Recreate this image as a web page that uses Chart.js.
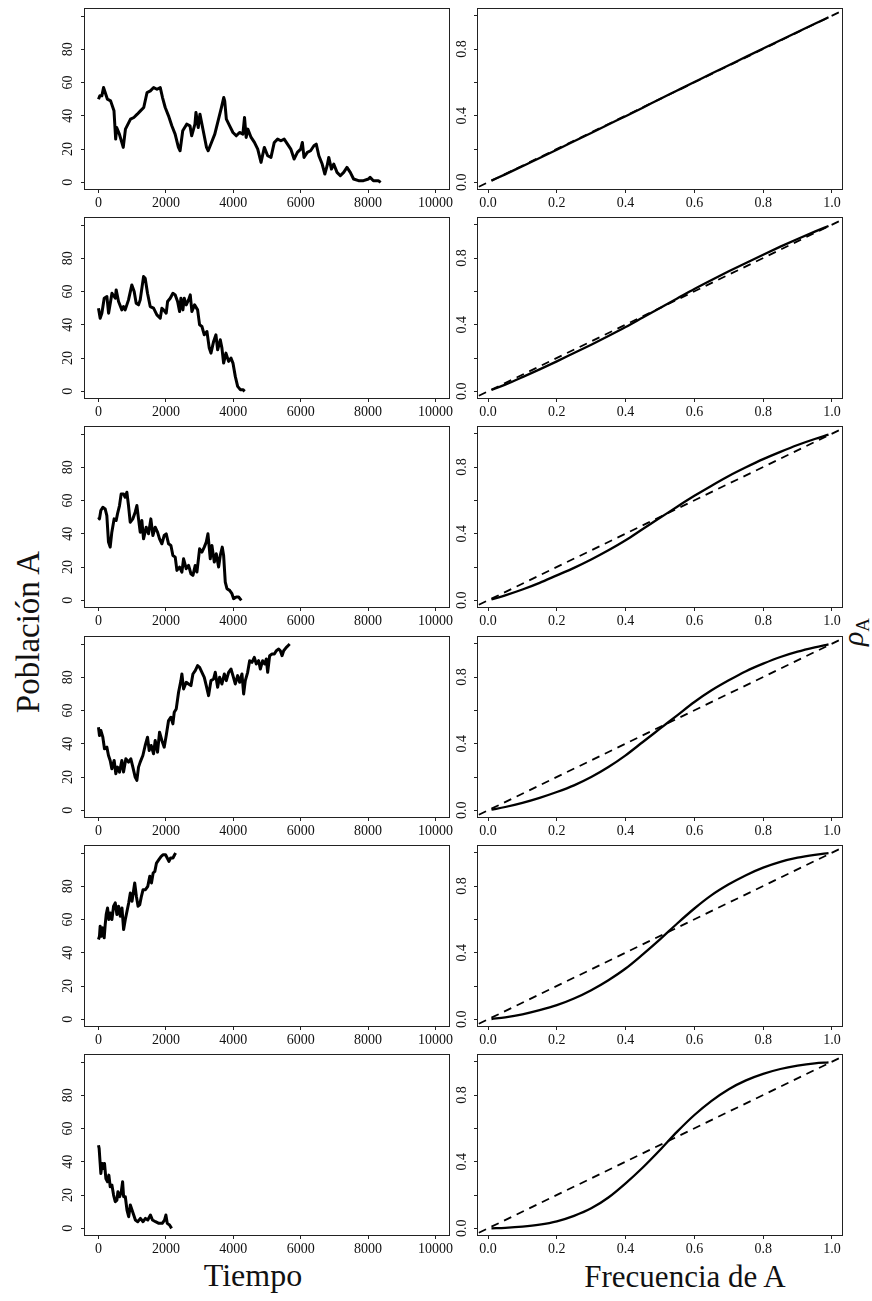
<!DOCTYPE html>
<html><head><meta charset="utf-8">
<script src="https://cdn.jsdelivr.net/npm/chart.js@4.4.0/dist/chart.umd.min.js"></script>
<style>
html,body{margin:0;padding:0;background:#fff;}
#fig{position:relative;width:872px;height:1301px;background:#fff;overflow:hidden;}
#fig canvas{position:absolute;}
.lbl{position:absolute;font-family:"Liberation Serif","DejaVu Serif",serif;color:#111;white-space:nowrap;line-height:1;}
.rot{transform:translate(-50%,-50%) rotate(-90deg);}
.hc{transform:translate(-50%,-50%);}
</style></head><body>
<div id="fig">
  <div class="lbl rot" id="ylabL" style="left:28px;top:632px;font-size:33px;">Población A</div>
  <div class="lbl rot" id="ylabR" style="left:853px;top:632px;font-size:30px;"><i>ρ</i><span style="font-size:19px;position:relative;top:6px;">A</span></div>
  <div class="lbl hc" id="xlabL" style="left:253px;top:1275px;font-size:32px;">Tiempo</div>
  <div class="lbl hc" id="xlabR" style="left:685px;top:1276px;font-size:31px;">Frecuencia de A</div>
</div>
<script>
// ---------- data: left column (population A vs time) ----------
const time1 = [0,40,100,150,265,360,460,510,540,620,735,800,950,1050,1150,1245,1343,1441,1540,1637,1735,1833,1900,1980,2078,2176,2274,2372,2421,2500,2617,2715,2765,2862,2892,2960,3010,3108,3206,3255,3353,3451,3549,3647,3716,3745,3794,3892,3990,4088,4186,4284,4333,4382,4431,4529,4627,4725,4823,4921,5020,5118,5216,5314,5412,5510,5608,5706,5804,5902,6000,6049,6098,6196,6294,6392,6461,6539,6637,6716,6784,6833,6912,6980,7078,7176,7275,7373,7471,7569,7716,7863,8010,8059,8157,8304,8373];
const pop1  = [50,52,52,57,50,49,43,26,33,29,21,32,38,39,41,43,45,54,55,57,56,57,51,45,40,34,29,21,19,31,35,34,28,35,42,33,41,31,21,19,24,29,37,45,51,49,38,34,30,28,30,29,39,27,32,27,24,20,12,21,16,15,24,26,25,26,23,20,14,18,20,24,15,18,19,22,23,16,11,5,10,15,8,11,6,4,6,9,6,2,1,1,2,3,1,1,0];

const time2 = [0,50,100,170,250,300,350,400,500,525,595,693,743,792,891,990,1059,1119,1188,1238,1337,1386,1455,1535,1634,1733,1832,1881,1931,2010,2050,2129,2208,2277,2347,2406,2446,2505,2545,2604,2673,2723,2772,2851,2941,3000,3069,3139,3218,3287,3337,3416,3485,3535,3614,3663,3713,3782,3861,3931,3990,4059,4129,4208,4287,4337];
const pop2  = [50,44,47,56,57,47,53,59,56,61,54,49,51,49,55,64,60,53,52,55,69,68,59,51,50,46,44,50,49,47,54,56,59,58,54,48,56,49,56,52,55,58,48,52,49,40,39,34,36,26,23,30,34,25,31,26,17,23,18,20,17,9,3,1,1,0];

const time3 = [0,30,70,129,198,248,297,347,396,465,525,564,624,673,743,792,842,891,941,1020,1089,1139,1188,1238,1287,1337,1416,1485,1554,1614,1683,1752,1812,1881,1950,2010,2079,2149,2208,2277,2327,2406,2475,2525,2604,2673,2743,2802,2871,2921,3000,3069,3139,3198,3248,3317,3366,3436,3495,3564,3614,3673,3713,3762,3812,3891,3960,4010,4089,4158,4238];
const pop3  = [50,49,54,56,55,51,35,32,41,49,48,52,57,64,64,62,65,57,47,49,53,57,49,41,48,37,44,40,49,39,44,41,37,34,39,40,34,33,27,26,18,20,17,25,19,21,16,15,21,17,31,29,32,35,40,25,33,23,28,20,27,32,27,11,7,6,4,1,2,2,0];

const time4 = [0,30,70,129,178,248,297,347,396,465,515,564,624,693,743,812,891,960,1020,1089,1139,1188,1238,1317,1386,1455,1505,1564,1634,1683,1752,1812,1881,1950,2010,2079,2149,2208,2248,2307,2376,2446,2475,2525,2604,2673,2743,2802,2871,2941,3000,3069,3139,3198,3267,3337,3416,3465,3535,3594,3663,3733,3792,3861,3931,3990,4059,4129,4188,4257,4307,4356,4426,4485,4554,4624,4683,4752,4802,4871,4931,4980,5020,5079,5149,5218,5277,5347,5396,5446,5495,5574,5624,5673];
const pop4  = [50,45,48,44,37,38,33,30,25,30,22,26,23,30,23,31,29,31,26,20,18,26,29,33,39,44,36,39,34,42,35,47,42,38,45,54,56,52,59,61,71,78,82,73,77,76,75,82,84,87,86,83,80,75,69,78,79,83,74,80,76,82,78,83,85,81,76,81,77,82,70,78,83,90,89,92,88,90,85,90,88,91,83,93,94,94,96,97,96,93,96,98,99,100];

const time5 = [0,30,50,90,129,169,199,229,269,308,348,398,448,498,547,597,647,697,746,796,846,896,945,995,1045,1075,1124,1174,1224,1274,1323,1393,1463,1522,1572,1622,1672,1721,1791,1861,1920,1990,2040,2090,2139,2209,2259,2289];
const pop5  = [48,50,56,50,55,49,57,63,67,60,64,60,68,70,63,68,62,67,54,60,65,70,76,71,78,82,74,68,69,74,78,78,80,86,82,88,89,94,96,98,99,99,97,95,97,97,99,100];

const time6 = [0,20,50,70,109,149,179,219,269,308,348,398,448,498,547,577,627,677,716,746,796,846,896,945,995,1045,1095,1164,1244,1323,1393,1463,1542,1602,1692,1791,1891,1960,2000,2040,2109,2169];
const pop6  = [50,48,39,33,39,36,39,30,28,32,25,26,20,16,17,22,19,22,28,19,19,11,7,14,11,8,5,4,6,4,6,5,8,5,4,3,3,5,8,3,2,0];

const timeSeries = [time1,time2,time3,time4,time5,time6];
const popSeries  = [pop1,pop2,pop3,pop4,pop5,pop6];

// ---------- data: right column (fixation probability vs frequency) ----------
const freqA = [0.01,0.05,0.10,0.15,0.20,0.25,0.30,0.35,0.40,0.45,0.50,0.55,0.60,0.65,0.70,0.75,0.80,0.85,0.90,0.95,0.99];
const rho1 = [0.010,0.048,0.097,0.146,0.196,0.246,0.296,0.347,0.397,0.448,0.500,0.551,0.602,0.653,0.703,0.753,0.803,0.853,0.902,0.951,0.990];
const rho2 = [0.008,0.040,0.085,0.132,0.180,0.230,0.280,0.332,0.386,0.443,0.500,0.557,0.614,0.668,0.720,0.770,0.820,0.868,0.914,0.958,0.992];
const rho3 = [0.005,0.030,0.065,0.105,0.150,0.195,0.245,0.300,0.360,0.428,0.495,0.562,0.627,0.688,0.746,0.798,0.847,0.891,0.932,0.968,0.994];
const rho4 = [0.004,0.020,0.045,0.075,0.110,0.150,0.200,0.260,0.330,0.410,0.490,0.570,0.650,0.720,0.780,0.835,0.880,0.920,0.952,0.978,0.996];
const rho5 = [0.002,0.012,0.030,0.055,0.085,0.125,0.175,0.235,0.305,0.390,0.480,0.575,0.665,0.745,0.810,0.865,0.910,0.945,0.970,0.987,0.997];
const rho6 = [0.000,0.003,0.010,0.022,0.042,0.075,0.120,0.185,0.270,0.365,0.470,0.580,0.680,0.765,0.835,0.888,0.927,0.956,0.976,0.990,0.996];
const rhoSeries = [rho1,rho2,rho3,rho4,rho5,rho6];
const neutralX = [-0.1, 1.1];
const neutralY = [-0.1, 1.1];

// ---------- ticks ----------
const timeTicks = [0,2000,4000,6000,8000,10000];
const timeTickLabels = ['0','2000','4000','6000','8000','10000'];
const popTicks = [0,20,40,60,80,100];
const popTickLabels = ['0','20','40','60','80',''];
const freqTicks = [0,0.2,0.4,0.6,0.8,1.0];
const freqTickLabels = ['0.0','0.2','0.4','0.6','0.8','1.0'];
const rhoTicks = [0,0.2,0.4,0.6,0.8,1.0];
const rhoTickLabels = ['0.0','','0.4','','0.8',''];

// ---------- layout ----------
const ROW_TOP = [9,218,427,637,846,1055];
const COL_LEFT = [85,478];
const BOX_W = 364, BOX_H = 180;
const PAD_L = 45, PAD_T = 14, PAD_R = 22, PAD_B = 28;
const FONT = {family:'"Liberation Serif","DejaVu Serif",serif', size:14};
const INK = '#111';

const boxPlugin = {
  id:'box',
  afterDraw(chart){
    const {ctx, chartArea:{left,top,right,bottom}} = chart;
    ctx.save();
    ctx.strokeStyle = '#222';
    ctx.lineWidth = 1;
    ctx.strokeRect(Math.round(left)-0.5, Math.round(top)-0.5, Math.round(right-left)+1, Math.round(bottom-top)+1);
    ctx.restore();
  }
};

function axis(pos, min, max, tickVals, tickLabels, pad){
  const horiz = pos === 'bottom';
  return {
    type:'linear', position:pos, min:min, max:max,
    afterBuildTicks(s){ s.ticks = tickVals.map(v => ({value:v})); },
    afterFit(s){ if(horiz){ s.height = PAD_B; } else { s.width = PAD_L; } },
    border:{display:false},
    grid:{drawOnChartArea:false, drawTicks:true, tickLength:4, tickWidth:1, tickColor:'#222'},
    ticks:{
      autoSkip:false, color:INK, font:FONT,
      callback:(v,i) => tickLabels[i],
      padding: pad,
      maxRotation: horiz ? 0 : 90,
      minRotation: horiz ? 0 : 90,
      crossAlign: horiz ? 'near' : 'center'
    }
  };
}

function makeCanvas(col,row){
  const c = document.createElement('canvas');
  const w = PAD_L + BOX_W + PAD_R, h = PAD_T + BOX_H + PAD_B;
  c.width = w; c.height = h;
  c.style.width = w+'px'; c.style.height = h+'px';
  c.style.left = (COL_LEFT[col]-PAD_L)+'px';
  c.style.top = (ROW_TOP[row]-PAD_T)+'px';
  document.getElementById('fig').appendChild(c);
  return c;
}

const common = {
  responsive:false, animation:false, events:[], devicePixelRatio:1,
  layout:{padding:{top:PAD_T,right:PAD_R,left:0,bottom:0}},
  plugins:{legend:{display:false}, tooltip:{enabled:false}}
};

for(let r=0;r<6;r++){
  // left: population walk
  new Chart(makeCanvas(0,r), {
    type:'line',
    data:{datasets:[{
      data: timeSeries[r].map((t,i)=>({x:t,y:popSeries[r][i]})),
      borderColor:'#000', borderWidth:3, pointRadius:0, tension:0, fill:false,
      borderJoinStyle:'round'
    }]},
    options:Object.assign({}, common, {
      scales:{
        x: axis('bottom', -400, 10400, timeTicks, timeTickLabels, 2),
        y: axis('left', -4, 104, popTicks, popTickLabels, 6)
      }
    }),
    plugins:[boxPlugin]
  });
  // right: fixation probability
  new Chart(makeCanvas(1,r), {
    type:'line',
    data:{datasets:[
      { data: neutralX.map((x,i)=>({x:x,y:neutralY[i]})),
        borderColor:'#000', borderWidth:1.8, borderDash:[8,6], pointRadius:0, tension:0, clip:0 },
      { data: freqA.map((x,i)=>({x:x,y:rhoSeries[r][i]})),
        borderColor:'#000', borderWidth:2.3, pointRadius:0, cubicInterpolationMode:'monotone' }
    ]},
    options:Object.assign({}, common, {
      scales:{
        x: axis('bottom', -0.0292, 1.0292, freqTicks, freqTickLabels, 2),
        y: axis('left', -0.04, 1.04, rhoTicks, rhoTickLabels, 3)
      }
    }),
    plugins:[boxPlugin]
  });
}
</script>
</body></html>
